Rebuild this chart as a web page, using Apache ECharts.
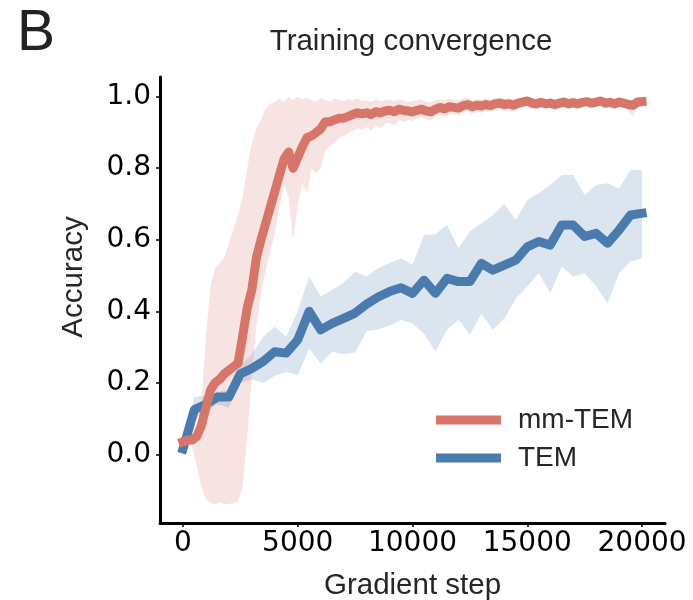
<!DOCTYPE html>
<html>
<head>
<meta charset="utf-8">
<script src="https://cdn.jsdelivr.net/npm/echarts@6/dist/echarts.min.js"></script>
<style>
html,body{margin:0;padding:0;background:#fff;}
#chart{width:693px;height:600px;}
</style>
</head>
<body>
<div id="chart"></div>
<script>
// ---- data ----
const xTicks = [0, 5000, 10000, 15000, 20000];
const yTicks = [0, 0.2, 0.4, 0.6, 0.8, 1.0];

// mm-TEM: recorded every 200 gradient steps (0..20000)
const mmStepSize = 200;
const mmMean = [
  0.035,0.04,0.04,0.05,0.08,0.13,0.18,0.20,0.21,0.225,
  0.235,0.245,0.255,0.33,0.41,0.46,0.55,0.60,0.645,0.69,
  0.735,0.78,0.825,0.845,0.80,0.83,0.86,0.885,0.89,0.90,
  0.91,0.93,0.93,0.935,0.94,0.94,0.945,0.95,0.955,0.952,
  0.955,0.95,0.958,0.955,0.96,0.962,0.958,0.965,0.962,0.96,
  0.958,0.962,0.965,0.96,0.958,0.965,0.97,0.966,0.972,0.97,
  0.968,0.975,0.978,0.972,0.976,0.974,0.978,0.975,0.98,0.982,
  0.978,0.98,0.976,0.982,0.985,0.988,0.982,0.98,0.984,0.98,
  0.982,0.978,0.982,0.985,0.98,0.983,0.98,0.984,0.986,0.982,
  0.985,0.988,0.982,0.984,0.98,0.985,0.982,0.978,0.976,0.985,
  0.986
];
const mmUpper = [
  0.045,0.05,0.055,0.07,0.14,0.33,0.47,0.52,0.535,0.55,
  0.59,0.63,0.67,0.72,0.80,0.87,0.91,0.935,0.965,0.98,
  0.985,0.995,0.985,1.0,0.99,1.0,0.992,0.998,0.99,0.985,
  0.997,0.99,0.985,0.995,0.99,0.988,0.993,0.99,0.995,0.988,
  0.99,0.985,0.992,0.988,0.99,0.993,0.987,0.992,0.99,0.985,
  0.988,0.99,0.993,0.985,0.984,0.99,0.993,0.99,0.995,0.99,
  0.99,0.995,0.996,0.99,0.994,0.992,0.995,0.992,0.996,0.997,
  0.994,0.995,0.992,0.997,0.998,1.0,0.996,0.994,0.997,0.994,
  0.995,0.992,0.995,0.998,0.993,0.996,0.993,0.997,0.998,0.995,
  0.997,1.0,0.995,0.997,0.993,0.997,0.995,0.992,0.99,0.997,
  0.998
];
const mmLower = [
  0.025,0.03,0.02,-0.03,-0.09,-0.125,-0.135,-0.14,-0.133,-0.14,
  -0.138,-0.137,-0.132,-0.09,0.05,0.22,0.36,0.45,0.515,0.565,
  0.62,0.69,0.755,0.72,0.60,0.70,0.76,0.73,0.80,0.785,
  0.80,0.85,0.862,0.87,0.885,0.89,0.90,0.905,0.912,0.908,
  0.915,0.905,0.92,0.912,0.925,0.928,0.92,0.935,0.93,0.935,
  0.932,0.94,0.945,0.936,0.935,0.945,0.95,0.944,0.952,0.95,
  0.948,0.957,0.96,0.953,0.958,0.955,0.96,0.957,0.963,0.966,
  0.96,0.964,0.958,0.967,0.97,0.974,0.966,0.965,0.97,0.965,
  0.968,0.962,0.967,0.972,0.965,0.97,0.966,0.971,0.974,0.968,
  0.972,0.976,0.968,0.971,0.966,0.972,0.968,0.962,0.945,0.972,
  0.975
];

// TEM: recorded every 500 gradient steps (0..20000)
const temStepSize = 500;
const temMean = [
  0.015,0.125,0.14,0.16,0.16,0.225,0.24,0.26,0.287,0.283,
  0.32,0.40,0.348,0.366,0.38,0.395,0.42,0.44,0.455,0.466,
  0.45,0.487,0.45,0.492,0.483,0.483,0.534,0.515,0.529,0.543,
  0.58,0.595,0.585,0.641,0.641,0.609,0.618,0.59,0.627,0.669,
  0.674
];
const temUpper = [
  0.03,0.16,0.165,0.175,0.18,0.25,0.28,0.33,0.357,0.329,
  0.40,0.497,0.441,0.46,0.48,0.511,0.497,0.52,0.535,0.548,
  0.53,0.613,0.615,0.641,0.576,0.623,0.646,0.669,0.70,0.655,
  0.711,0.73,0.753,0.781,0.781,0.725,0.753,0.758,0.744,0.795,
  0.795
];
const temLower = [
  0.0,0.10,0.12,0.14,0.13,0.20,0.21,0.20,0.22,0.23,
  0.222,0.296,0.254,0.287,0.28,0.285,0.345,0.348,0.36,0.376,
  0.366,0.338,0.287,0.348,0.376,0.334,0.394,0.348,0.38,0.436,
  0.47,0.506,0.45,0.525,0.497,0.506,0.47,0.422,0.506,0.539,
  0.548
];

// ---- build ----
const RED = '#d87569';
const BLUE = '#4a7baf';
const FONT = '"Liberation Sans", Arial, sans-serif';
const TICKFONT = '"DejaVu Sans", sans-serif';

function pairs(vals, step) { return vals.map((v, i) => [i * step, v]); }
function triples(lo, up, step) { return lo.map((v, i) => [i * step, v, up[i]]); }

const chart = echarts.init(document.getElementById('chart'), null, {renderer: 'canvas'});

// band drawn as one polygon through the axis scales
function bandSeries(name, rows, color) {
  return {
    name, type: 'custom', silent: true, data: rows,
    encode: {x: 0, y: [1, 2]},
    renderItem: function (params, api) {
      if (params.dataIndex !== 0) return null;
      const top = rows.map(r => api.coord([r[0], r[2]]));
      const bot = rows.slice().reverse().map(r => api.coord([r[0], r[1]]));
      return {
        type: 'polygon',
        shape: {points: top.concat(bot)},
        style: {fill: color, stroke: null}
      };
    }
  };
}
const meanLine = (name, data, color) => ({
  name, type: 'line', data, showSymbol: false, symbol: 'none',
  color,
  lineStyle: {color, width: 9, cap: 'square', join: 'round'}
});

const option = {
  animation: false,
  backgroundColor: '#fff',
  grid: {left: 160, right: 28, top: 77, bottom: 77, containLabel: false, outerBoundsMode: 'none'},
  xAxis: {
    type: 'value', min: -1000, max: 21000,
    name: 'Gradient step', nameLocation: 'middle', nameGap: 48,
    nameTextStyle: {fontFamily: FONT, fontSize: 29.5, color: '#262626'},
    axisLine: {show: true, onZero: false, lineStyle: {color: '#000', width: 3}},
    axisTick: {show: true, length: 4, customValues: xTicks, lineStyle: {color: '#000', width: 1.5}},
    axisLabel: {customValues: xTicks, fontFamily: TICKFONT, fontSize: 28, color: '#000', margin: 7,
      formatter: v => String(v)},
    splitLine: {show: false}
  },
  yAxis: {
    type: 'value', min: -0.192, max: 1.055,
    axisLine: {show: true, onZero: false, lineStyle: {color: '#000', width: 3}},
    axisTick: {show: true, length: 4, customValues: yTicks, lineStyle: {color: '#000', width: 1.5}},
    axisLabel: {customValues: yTicks, fontFamily: TICKFONT, fontSize: 28, color: '#000', margin: 9,
      formatter: v => v.toFixed(1)},
    splitLine: {show: false}
  },
  legend: {
    data: ['mm-TEM', 'TEM'], orient: 'vertical', left: 436, top: 405, padding: 0,
    icon: 'rect', itemWidth: 65, itemHeight: 9, itemGap: 8,
    textStyle: {fontFamily: FONT, fontSize: 28, color: '#262626', lineHeight: 30, padding: [0, 0, 0, 12]},
    selectedMode: false
  },
  graphic: [
    {type: 'text', left: 17, top: 6, style: {text: 'B', font: '57px "Liberation Sans", Arial, sans-serif', fill: '#222'}},
    {type: 'text', x: 411, y: 42, style: {text: 'Training convergence', font: '29.5px "Liberation Sans", Arial, sans-serif', fill: '#262626', align: 'center', verticalAlign: 'middle'}},
    {type: 'text', x: 74, y: 277, rotation: Math.PI / 2, style: {text: 'Accuracy', font: '29.5px "Liberation Sans", Arial, sans-serif', fill: '#262626', align: 'center', verticalAlign: 'middle'}}
  ],
  series: [
    bandSeries('temBand', triples(temLower, temUpper, temStepSize), 'rgba(74,123,175,0.2)'),
    meanLine('TEM', pairs(temMean, temStepSize), BLUE),
    bandSeries('mmBand', triples(mmLower, mmUpper, mmStepSize), 'rgba(216,117,105,0.2)'),
    meanLine('mm-TEM', pairs(mmMean, mmStepSize), RED)
  ]
};
chart.setOption(option);
</script>
</body>
</html>
